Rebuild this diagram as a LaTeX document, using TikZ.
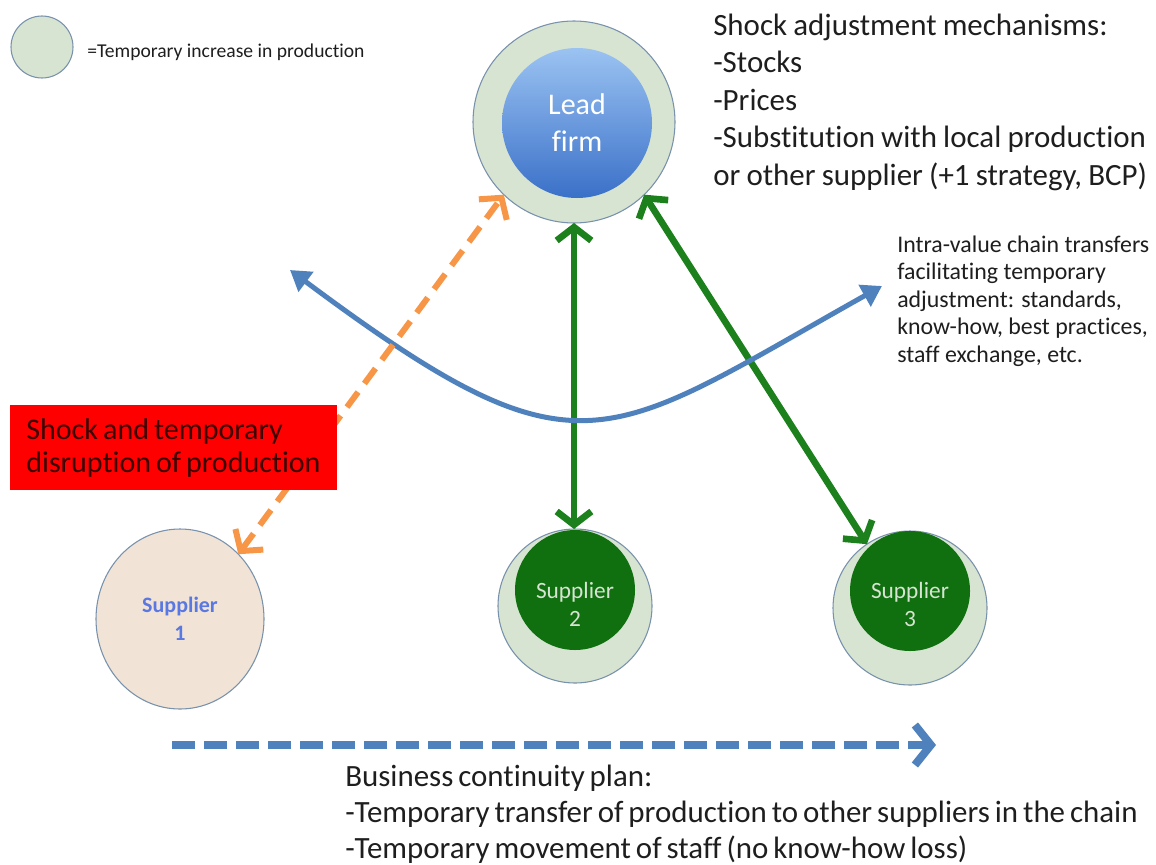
\documentclass[tikz,border=0pt]{standalone}
\usepackage{fontspec}
\setmainfont{Carlito}[Ligatures=NoCommon]
\usetikzlibrary{arrows.meta,shapes.geometric}
\definecolor{lgreen}{RGB}{215,228,210}
\definecolor{rimc}{RGB}{120,145,172}
\definecolor{dgreen}{RGB}{16,112,16}
\definecolor{agreen}{RGB}{28,128,28}
\definecolor{orangec}{RGB}{247,150,70}
\definecolor{bluec}{RGB}{79,129,189}
\definecolor{beige}{RGB}{241,228,215}
\definecolor{txt}{RGB}{30,30,30}
\definecolor{s1blue}{RGB}{90,120,225}
\definecolor{leadtop}{RGB}{155,195,242}
\definecolor{leadbot}{RGB}{58,112,200}
\definecolor{redtxt}{RGB}{60,0,0}
\newcommand\tightspA{\spaceskip 0.17em plus 0.05em\relax}
\newcommand\tightspB{\spaceskip 0.2em plus 0.05em\relax}
\newcommand\tightspC{\spaceskip 0.16em plus 0.05em\relax}
\begin{document}
\begin{tikzpicture}[x=0.75pt,y=-0.75pt,
  ring/.style={circle,draw=rimc,line width=0.8pt,fill=lgreen,inner sep=0pt,outer sep=0pt},
  core/.style={circle,fill=dgreen,inner sep=0pt,outer sep=0pt,minimum size=90pt},
  suptext/.style={text=lgreen,align=center,font=\fontsize{17.5pt}{21pt}\selectfont},
  greenarrow/.style={draw=agreen,line width=5pt,{Straight Barb[length=10pt,width=26pt]}-{Straight Barb[length=10pt,width=26pt]}},
  orangearrow/.style={draw=orangec,line width=4.5pt,dash pattern=on 14pt off 8pt,{Straight Barb[length=11pt,width=26pt]}-{Straight Barb[length=11pt,width=26pt]}},
  bluearc/.style={draw=bluec,line width=3.75pt,{Triangle[length=15pt,width=18pt]}-{Triangle[length=15pt,width=18pt]}},
  bluedash/.style={draw=bluec,line width=6pt,dash pattern=on 17pt off 7pt,-{Straight Barb[length=12pt,width=30pt]}},
  bigtext/.style={text=txt,align=left,inner sep=0pt,anchor=base west},
]
\useasboundingbox (0,0) rectangle (1156,864);

% legend
\node[ring,minimum size=46.5pt] (legend) at (42,47) {};
\node[text=txt,inner sep=0pt,anchor=base west,font=\fontsize{14.7pt}{17pt}\selectfont] (legendtext) at (87,57) {=Temporary increase in production};

% lead firm
\node[ring,minimum size=151.5pt] (lead) at (574,122) {};
\node[circle,inner sep=0pt,outer sep=0pt,minimum size=112.5pt,top color=leadtop,bottom color=leadbot,
      text=white,align=center,font=\fontsize{22.5pt}{27.75pt}\selectfont] (leadcore) at (577,123) {Lead\\firm};

% suppliers
\node[ellipse,draw=rimc,line width=0.8pt,fill=beige,inner sep=0pt,outer sep=0pt,minimum width=126pt,minimum height=135pt,
      text=s1blue,align=center,font=\bfseries\fontsize{16.5pt}{21pt}\selectfont] (s1) at (180,619) {Supplier\\1};

\node[ring,minimum size=115.5pt] (s2) at (575,606) {};
\node[core] (s2core) at (575,590) {};
\node[suptext] (s2text) at (575,604) {Supplier\\2};

\node[ring,minimum size=115.5pt] (s3) at (910,608) {};
\node[core] (s3core) at (910,591) {};
\node[suptext] (s3text) at (910,604) {Supplier\\3};

% green arrows
\draw[greenarrow] (lead.south) -- (lead.south |- s2.north);
\draw[greenarrow] (lead.-46) -- (s3.124.7);

% blue arc
\coordinate (bL) at (290,270);
\coordinate (bR) at (882,286);
\draw[bluearc] (bL) .. controls (580,486) and (602,443) .. (bR);

% orange dashed arrow
\draw[orangearrow] (s1.48) -- (lead.226);

% red box
\node[rectangle,fill=red,inner sep=0pt,minimum width=245.25pt,minimum height=63.75pt,align=left,
      text=redtxt,font=\fontsize{22.5pt}{24.75pt}\selectfont\tightspA] (shock) at (173.5,447.5) {Shock and temporary\\disruption of production};

% bottom dashed arrow
\coordinate (dstart) at (172,745);
\coordinate (dend) at (936,745);
\draw[bluedash] (dstart) -- (dend);

% texts
\node[bigtext,font=\fontsize{23.2pt}{28.1pt}\selectfont\tightspB] (mech) at (713,185) {Shock adjustment mechanisms:\\-Stocks\\-Prices\\-Substitution with local production\\or other supplier (+1 strategy, BCP)};

\node[bigtext,font=\fontsize{17.9pt}{20.6pt}\selectfont] (intra) at (897,362) {Intra-value chain transfers\\facilitating temporary\\adjustment: standards,\\know-how, best practices,\\staff exchange, etc.};

\node[bigtext,font=\fontsize{23.2pt}{27pt}\selectfont\tightspC] (bcp) at (345,858) {Business continuity plan:\\-Temporary transfer of production to other suppliers in the chain\\-Temporary movement of staff (no know-how loss)};
\end{tikzpicture}
\end{document}
